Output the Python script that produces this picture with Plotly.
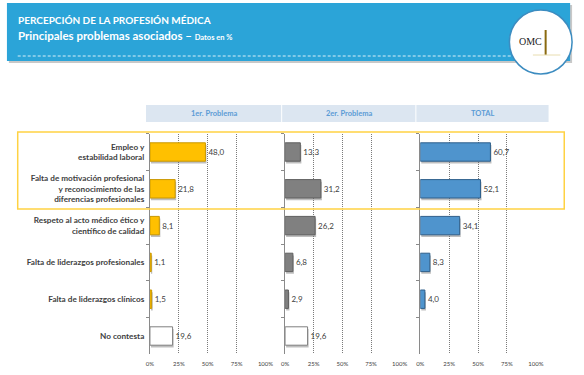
import plotly.graph_objects as go

categories = [
    "Empleo y<br>estabilidad laboral",
    "Falta de motivación profesional<br>y reconocimiento de las<br>diferencias profesionales",
    "Respeto al acto médico ético y<br>científico de calidad",
    "Falta de liderazgos profesionales",
    "Falta de liderazgos clínicos",
    "No contesta",
]
panel_titles = ["1er. Problema", "2er. Problema", "TOTAL"]
primero = [48.0, 21.8, 8.1, 1.1, 1.5, 19.6]
segundo = [13.3, 31.2, 26.2, 6.8, 2.9, 19.6]
total = [60.7, 52.1, 34.1, 8.3, 4.0, None]
tick_vals = [0, 25, 50, 75, 100]
tick_text = ["0%", "25%", "50%", "75%", "100%"]

W, H = 584, 375
def px(x): return x / W
def py(y): return 1 - y / H

FONT = "Lato"
fig = go.Figure()

series = [primero, segundo, total]
fills = ["#FFC000", "#808080", "#4F94CD"]
lines = ["#C99700", "#5f5f5f", "#2E5F8A"]
domains = [(px(149), px(267)), (px(287), px(404)), (px(425), px(543))]
ylabels = [f"<b>{c}</b>" for c in categories]

for i, vals in enumerate(series):
    colors = [fills[i]] * len(vals)
    lcols = [lines[i]] * len(vals)
    if i < 2:
        colors[-1] = "#FFFFFF"
        lcols[-1] = "#7f7f7f"
    txt = ["" if v is None else f"{v:.1f}".replace(".", ",") for v in vals]
    ax = "" if i == 0 else str(i + 1)
    fig.add_trace(go.Bar(
        x=vals, y=ylabels, orientation="h",
        marker=dict(color="rgba(110,110,110,0.45)", line=dict(width=0)),
        width=0.5, offset=-0.19, base=0.9,
        xaxis="x" + ax, yaxis="y" + ax, hoverinfo="skip", showlegend=False,
    ))
    fig.add_trace(go.Bar(
        x=vals, y=ylabels, orientation="h",
        marker=dict(color=colors, line=dict(color=lcols, width=1)),
        width=0.5, offset=-0.25,
        text=txt, textposition="outside", cliponaxis=False,
        textfont=dict(family=FONT, size=8, color="#404040"),
        xaxis="x" + ax, yaxis="y" + ax, showlegend=False,
    ))

layout = dict(
    width=W, height=H, margin=dict(l=0, r=0, t=0, b=0),
    paper_bgcolor="white", plot_bgcolor="rgba(0,0,0,0)",
    barmode="overlay",
    font=dict(family=FONT, color="#404040"),
)
ydom = [py(354.4), py(133.6)]
for i in range(3):
    ax = "" if i == 0 else str(i + 1)
    layout["xaxis" + ax] = dict(
        domain=list(domains[i]), range=[0, 100], anchor="y" + ax,
        tickvals=tick_vals, ticktext=tick_text, showgrid=True,
        gridcolor="#7a7a7a", griddash="1px,1px", gridwidth=1,
        zeroline=False, showline=False, ticks="",
        tickfont=dict(family=FONT, size=6, color="#404040"),
        ticklabelstandoff=5,
    )
    layout["yaxis" + ax] = dict(
        domain=ydom, type="category", categoryorder="array", categoryarray=ylabels,
        range=[5.5, -0.5], anchor="x" + ax,
        showticklabels=(i == 0),
        showline=True, linecolor="#8a8a8a", linewidth=1,
        ticks="outside", ticklen=3, tickcolor="#8a8a8a", tickson="boundaries",
        showgrid=False, zeroline=False,
        tickfont=dict(family=FONT, size=8.2, color="#404040"),
        ticklabelstandoff=3,
    )
fig.update_layout(**layout)

shapes = []
shapes.append(dict(type="rect", xref="paper", yref="paper", x0=px(5), x1=px(580),
                   y0=py(63), y1=py(5), fillcolor="#c8c8c8", line=dict(width=0), layer="below"))
shapes.append(dict(type="rect", xref="paper", yref="paper", x0=px(3), x1=px(578),
                   y0=py(61), y1=py(3), fillcolor="#2BA4D8", line=dict(width=0), layer="below"))
shapes.append(dict(type="line", xref="paper", yref="paper", x0=px(14), x1=px(520),
                   y0=py(56), y1=py(56), line=dict(color="#D8EEF8", width=1, dash="3px,2px")))
shapes.append(dict(type="circle", xref="paper", yref="paper", x0=px(516), x1=px(580),
                   y0=py(74), y1=py(10), fillcolor="white", line=dict(color="#3C8CC0", width=1.5)))
shapes.append(dict(type="line", xref="paper", yref="paper", x0=px(553), x1=px(553),
                   y0=py(55), y1=py(30), line=dict(color="#8a6a10", width=2)))
shapes.append(dict(type="line", xref="paper", yref="paper", x0=px(540), x1=px(568),
                   y0=py(55), y1=py(55), line=dict(color="#E8DDB0", width=1)))
bands = [(145, 283), (284, 420), (421, 556)]
for (a, b) in bands:
    shapes.append(dict(type="rect", xref="paper", yref="paper", x0=px(a), x1=px(b),
                       y0=py(122), y1=py(105), fillcolor="#DCE6F1", line=dict(width=0), layer="below"))
shapes.append(dict(type="rect", xref="paper", yref="paper", x0=px(14), x1=px(572),
                   y0=py(209), y1=py(132), line=dict(color="#FFD243", width=1.5), fillcolor="rgba(0,0,0,0)"))
fig.update_layout(shapes=shapes)

ann = []
ann.append(dict(xref="paper", yref="paper", x=px(12), y=py(20), xanchor="left", yanchor="middle",
                text="<b>PERCEPCIÓN DE LA PROFESIÓN MÉDICA</b>", showarrow=False,
                font=dict(family=FONT, size=10, color="white")))
ann.append(dict(xref="paper", yref="paper", x=px(12), y=py(36), xanchor="left", yanchor="middle",
                text="<b>Principales problemas asociados – <span style='font-size:7.5px'>Datos en %</span></b>",
                showarrow=False, font=dict(family=FONT, size=11.5, color="white")))
ann.append(dict(xref="paper", yref="paper", x=px(538), y=py(42), xanchor="center", yanchor="middle",
                text="OMC", showarrow=False, font=dict(family="Liberation Serif", size=10, color="#1a1a1a")))
for (a, b), t in zip(bands, panel_titles):
    ann.append(dict(xref="paper", yref="paper", x=px((a + b) / 2), y=py(113.5), xanchor="center",
                    yanchor="middle", text="<b>" + t + "</b>", showarrow=False,
                    font=dict(family=FONT, size=7.5, color="#5B9BD5")))
fig.update_layout(annotations=ann)

fig.write_html("out.html", post_script="document.body.style.margin='0';",
               config={"displayModeBar": False})
